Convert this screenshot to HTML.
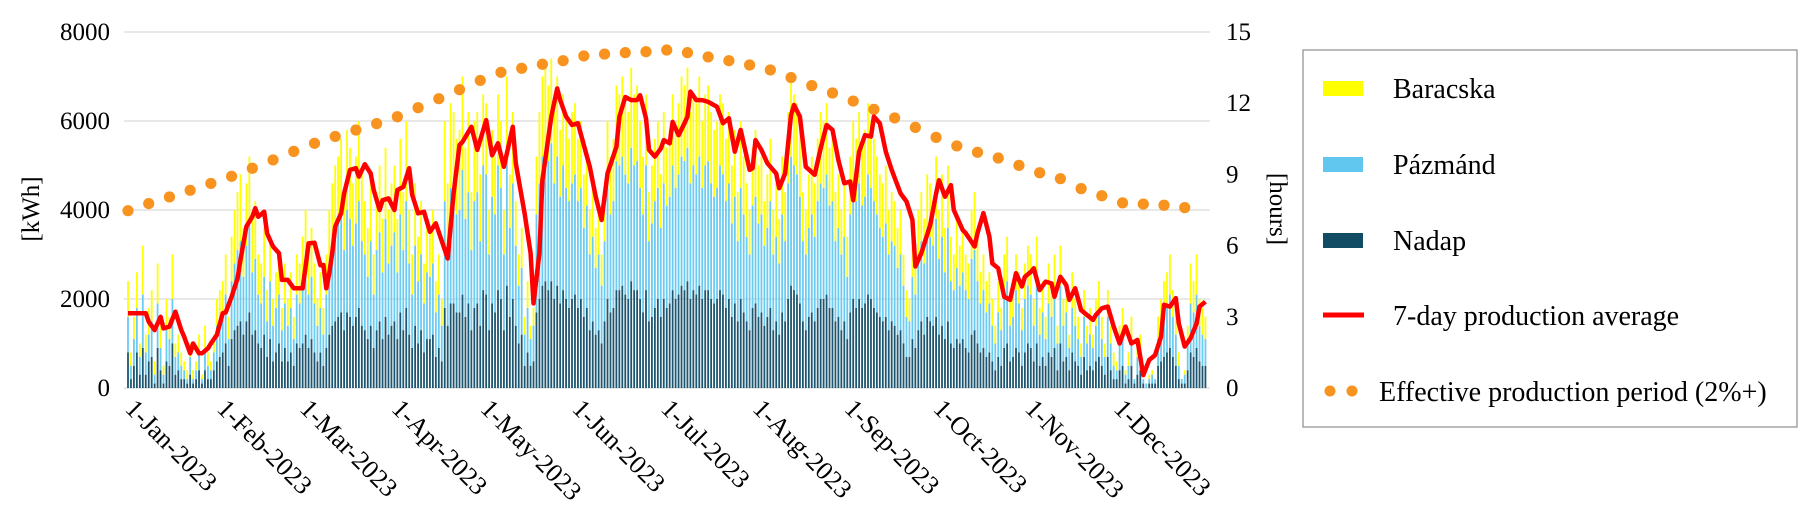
<!DOCTYPE html>
<html><head><meta charset="utf-8">
<style>
html,body{margin:0;padding:0;background:#fff;}
svg{display:block;font-family:"Liberation Serif","DejaVu Serif",serif;}
</style></head>
<body>
<svg id="chart" width="1820" height="524" viewBox="0 0 1820 524" xmlns="http://www.w3.org/2000/svg">
  <g id="grid"></g>
  <g id="bars"></g>
  <g id="dots"></g>
  <g id="line"></g>
  <g id="yleft"></g>
  <g id="yright"></g>
  <g id="xaxis"></g>
  <text transform="translate(39,209) rotate(-90)" text-anchor="middle" font-size="25">[kWh]</text>
  <text transform="translate(1270,209) rotate(90)" text-anchor="middle" font-size="25">[hours]</text>
  <g>
    <rect x="1303" y="50" width="494" height="377" fill="#fff" stroke="#8c8c8c" stroke-width="1.2"/>
    <g>
      <rect x="1323" y="81" width="40" height="15" fill="#ffff00"/>
      <text x="1393" y="98" font-size="28">Baracska</text>
    </g>
    <g>
      <rect x="1323" y="157" width="40" height="15" fill="#61c7ef"/>
      <text x="1393" y="174" font-size="28">Pázmánd</text>
    </g>
    <g>
      <rect x="1323" y="233" width="40" height="15" fill="#124b64"/>
      <text x="1393" y="250" font-size="28">Nadap</text>
    </g>
    <g>
      <line x1="1323" y1="315" x2="1364" y2="315" stroke="#ff0000" stroke-width="5"/>
      <text x="1393" y="325" font-size="28">7-day production average</text>
    </g>
    <g>
      <circle cx="1330" cy="391" r="5.5" fill="#f7931e"/>
      <circle cx="1352" cy="391" r="5.5" fill="#f7931e"/>
      <text x="1379" y="401" font-size="28">Effective production period (2%+)</text>
    </g>
  </g>
</svg>
<script>
// Daily production, values in units of 100 kWh
const nadap = [
8,2,5,8,3,9,3,6,7,1,9,4,1,6,5,10,3,4,2,2,1,3,1,2,4,1,4,2,2,4,6,
7,8,10,5,11,13,14,15,12,15,17,12,13,10,9,12,7,11,6,8,10,6,9,6,8,5,10,9,
10,12,9,11,8,6,8,5,9,12,14,15,16,17,13,17,16,14,16,18,14,13,11,14,9,13,15,11,16,12,14,
15,11,17,13,18,12,9,14,10,13,8,11,11,12,7,9,6,18,14,19,19,17,17,21,16,19,13,18,19,14,
22,21,13,19,17,22,20,13,23,16,20,14,10,12,5,8,5,6,17,20,23,24,22,24,20,23,19,22,20,18,20,
21,18,20,16,18,13,15,12,13,10,15,20,17,18,22,22,23,21,20,24,22,22,20,17,22,15,16,18,20,16,
20,18,19,22,20,21,23,22,24,20,22,21,23,20,22,22,20,19,20,22,21,18,20,16,19,15,20,17,15,13,18,
19,16,17,14,16,18,13,15,12,17,15,20,23,22,21,19,15,13,16,17,15,18,20,20,21,18,18,15,16,13,15,
11,17,20,18,20,18,19,21,20,18,17,16,15,16,13,15,14,12,13,10,7,7,11,9,13,15,12,16,15,14,
16,12,14,11,15,10,9,11,10,11,9,8,12,13,10,8,9,7,8,6,4,7,5,9,10,6,7,9,8,5,8,
10,9,6,10,5,7,5,8,7,9,4,10,6,7,4,8,6,5,3,7,4,5,4,6,7,5,3,7,4,2,
2,4,5,1,2,5,1,3,4,1,0,1,1,1,5,6,7,8,9,7,5,2,1,1,4,8,7,9,6,5,5];
const pazmand = [
8,3,6,10,4,12,5,6,8,2,10,5,2,8,6,10,4,4,3,2,1,4,1,2,4,1,5,3,2,4,8,
8,9,11,6,13,15,17,18,13,17,20,14,16,11,10,13,8,13,8,10,11,7,10,8,10,6,11,10,
14,16,12,14,11,8,10,7,12,16,18,20,21,22,18,23,22,18,21,24,19,17,14,19,12,18,20,15,22,16,18,
20,15,22,18,24,16,12,18,14,17,11,15,14,16,10,12,8,24,18,26,25,22,23,28,22,25,18,24,25,19,
28,27,17,24,22,28,25,17,29,20,26,18,13,15,7,10,6,8,22,26,29,30,29,31,26,29,24,28,25,24,26,
27,24,25,20,23,17,19,15,17,13,18,25,22,24,29,28,29,27,26,30,28,29,25,22,28,18,21,24,25,20,
26,23,24,28,25,27,29,29,30,26,28,27,29,25,28,29,26,24,25,28,27,24,26,21,24,18,25,22,19,17,23,
24,21,22,18,20,24,17,19,16,22,18,26,29,28,27,24,18,17,20,22,19,24,26,25,27,23,24,18,20,17,19,
14,22,25,24,26,23,24,27,25,24,22,20,19,21,17,18,18,15,17,13,9,8,14,12,17,18,16,20,19,18,
22,17,20,15,21,14,13,16,13,15,13,12,17,18,14,11,13,10,11,8,6,10,8,13,14,8,9,13,11,8,12,
13,12,8,14,7,10,6,11,9,12,6,13,8,10,5,10,8,6,4,9,6,7,5,8,10,6,4,9,6,3,
2,6,7,2,3,6,1,4,5,1,1,1,2,1,6,8,10,10,12,9,7,3,1,2,6,11,10,12,8,7,6];
const baracska = [
8,3,5,8,3,11,4,6,7,3,9,5,2,6,5,10,3,4,3,2,2,3,2,2,4,1,5,3,2,4,6,
7,7,9,5,10,12,13,15,11,14,15,12,13,9,9,11,7,10,6,8,9,5,9,6,8,5,9,9,
10,12,9,11,9,6,8,6,9,12,14,15,15,17,13,18,16,14,15,18,15,12,11,15,9,13,15,12,16,12,14,
15,12,17,13,18,12,9,14,10,12,9,12,11,12,7,9,6,18,14,19,18,17,18,21,16,18,13,18,18,15,
16,16,10,15,13,16,15,10,18,12,16,10,7,9,4,6,3,4,13,16,18,18,17,19,16,18,15,16,15,14,16,
16,14,15,12,13,10,12,9,10,7,11,15,13,14,17,16,18,16,16,18,16,17,15,13,16,11,13,14,15,12,
16,13,15,16,15,16,18,17,18,16,16,16,18,15,16,17,16,15,15,16,16,14,16,13,15,11,15,13,12,10,13,
15,13,13,10,12,14,10,12,10,13,11,16,18,16,16,15,11,10,12,13,12,14,16,15,16,13,14,11,12,10,12,
9,13,15,14,16,13,15,16,15,14,13,12,12,13,10,11,10,9,10,7,6,5,9,7,10,11,10,12,12,10,
14,11,14,10,14,10,8,11,9,10,8,8,11,13,10,7,8,7,7,6,4,7,5,8,10,6,6,8,7,5,8,
9,9,6,10,6,7,5,9,6,9,4,9,6,7,3,8,6,5,3,6,4,6,3,6,7,5,3,6,4,3,
2,4,6,1,3,5,0,3,3,0,0,1,1,0,5,6,7,8,9,6,6,3,0,1,4,9,7,9,6,6,5];
const unitKWh = 100;
// 7-day average (day of year, kWh)
const avgDays = [0,6,7,9,11,12,14,16,18,19,21,22,24,25,27,28,30,32,33,35,37,38,40,42,43,44,46,47,49,51,52,54,56,59,60,61,63,65,66,67,68,69,70,72,73,75,77,78,80,82,83,85,86,88,90,91,93,95,96,98,100,102,104,108,110,112,113,116,118,121,123,125,127,130,131,134,136,137,139,140,143,145,146,148,150,152,154,156,158,160,162,165,166,168,170,172,173,175,176,178,180,181,183,184,186,188,189,190,192,194,196,199,201,203,205,207,210,211,212,214,216,219,220,222,224,225,227,229,232,234,236,238,240,242,244,245,247,249,251,252,254,256,258,261,263,265,266,268,271,273,274,276,278,279,282,283,286,287,289,291,292,294,296,298,300,302,303,305,306,308,310,312,313,315,317,318,320,322,324,326,327,329,331,333,335,337,339,341,343,345,347,349,350,352,354,355,357,359,361,362,364];
const avgValues = [1680,1680,1490,1300,1600,1340,1380,1715,1300,1150,780,1000,780,780,890,1000,1190,1680,1700,2050,2460,2880,3630,3850,4040,3850,3960,3475,3180,3030,2430,2430,2240,2240,2730,3250,3265,2760,2765,2240,2580,3030,3630,3925,4370,4900,4940,4750,5030,4820,4450,4000,4220,4260,4000,4450,4520,4940,4340,3925,3960,3510,3700,2910,4370,5460,5530,5870,5350,6020,5230,5500,4970,5870,5050,3925,3030,1900,3030,4670,6100,6730,6470,6100,5910,5950,5460,4970,4300,3775,4820,5420,6100,6540,6470,6470,6580,6060,5350,5200,5380,5570,5500,5980,5680,5950,6100,6660,6470,6470,6430,6320,5950,6060,5310,5800,4900,4940,5570,5350,5050,4820,4490,4820,6130,6360,6100,4970,4790,5380,5910,5800,5120,4600,4640,4220,5310,5680,5650,6100,5950,5310,4900,4370,4190,3780,2730,3030,3660,4370,4670,4300,4560,4000,3550,3480,3180,3480,3930,3400,2800,2690,2050,1980,2580,2280,2500,2610,2690,2200,2390,2350,2050,2500,2310,1980,2240,1750,1640,1530,1640,1790,1830,1380,1000,1380,1000,1080,290,630,740,1150,1870,1830,2020,1450,930,1120,1450,1830,1940];
// Effective production period (hours), weekly from 1 Jan
const periodHours = [7.47,7.77,8.05,8.33,8.62,8.92,9.26,9.61,9.97,10.31,10.6,10.87,11.14,11.43,11.81,12.19,12.57,12.96,13.3,13.47,13.64,13.79,13.99,14.07,14.13,14.17,14.24,14.13,13.95,13.79,13.61,13.4,13.08,12.74,12.43,12.09,11.74,11.38,10.98,10.56,10.2,9.93,9.69,9.38,9.07,8.82,8.4,8.1,7.8,7.75,7.7,7.6];
const leftTicks = [0,2000,4000,6000,8000];
const rightTicks = [0,3,6,9,12,15];
const monthLabels = ["1-Jan-2023","1-Feb-2023","1-Mar-2023","1-Apr-2023","1-May-2023","1-Jun-2023","1-Jul-2023","1-Aug-2023","1-Sep-2023","1-Oct-2023","1-Nov-2023","1-Dec-2023"];
const monthStartDays = [0,31,59,90,120,151,181,212,243,273,304,334];

const NS = "http://www.w3.org/2000/svg";
const X0 = 128, DX = 2.96, Y0 = 388, YTOP = 32;
function xs(d){ return X0 + d*DX; }
function yl(v){ return Y0 - v/8000*(Y0-YTOP); }
function yr(h){ return Y0 - h/15*(Y0-YTOP); }
function mk(tag, attrs, parent){
  const e = document.createElementNS(NS, tag);
  for (const k in attrs) e.setAttribute(k, attrs[k]);
  parent.appendChild(e);
  return e;
}
const grid = document.getElementById('grid');
const bars = document.getElementById('bars');
const dots = document.getElementById('dots');
const lineG = document.getElementById('line');
const yleft = document.getElementById('yleft');
const yright = document.getElementById('yright');
const xaxis = document.getElementById('xaxis');

leftTicks.forEach(function(t){
  const g = mk('line', {x1:124, x2:1210, y1:yl(t), y2:yl(t), stroke:'#d9d9d9', 'stroke-width':1.3}, grid);
  
  
  const lab = mk('text', {x:110, y:yl(t)+8, 'text-anchor':'end', 'font-size':25}, yleft);
  lab.textContent = t;
  
  
});
rightTicks.forEach(function(t){
  const lab = mk('text', {x:1226, y:yr(t)+8, 'text-anchor':'start', 'font-size':25}, yright);
  lab.textContent = t;
  
  
});
for (let d = 0; d < nadap.length; d++){
  const n = nadap[d]*unitKWh, p = pazmand[d]*unitKWh, b = baracska[d]*unitKWh;
  const x = xs(d) - 0.9;
  const r1 = mk('rect', {x:x, y:yl(n), width:1.8, height:Y0-yl(n), fill:'#1d5670'}, bars);
  
  
  const r2 = mk('rect', {x:x, y:yl(n+p), width:1.8, height:yl(n)-yl(n+p), fill:'#6ccbf0'}, bars);
  
  
  const r3 = mk('rect', {x:x, y:yl(n+p+b), width:1.8, height:yl(n+p)-yl(n+p+b), fill:'#ffff00'}, bars);
  
  
}
periodHours.forEach(function(h, i){
  const c = mk('circle', {cx:xs(i*7), cy:yr(h), r:5.6, fill:'#f7931e'}, dots);
  
  
});
const pts = avgDays.map(function(d, i){ return xs(d).toFixed(1)+','+yl(avgValues[i]).toFixed(1); }).join(' ');
const pl = mk('polyline', {points:pts, fill:'none', stroke:'#ff0000', 'stroke-width':4.5, 'stroke-linejoin':'round'}, lineG);


monthLabels.forEach(function(m, i){
  const x = xs(monthStartDays[i]) - 4, y = 410;
  const t = mk('text', {x:x, y:y, 'font-size':26, transform:'rotate(45 '+x+' '+y+')'}, xaxis);
  t.textContent = m;
  
  
});
</script>
</body></html>
